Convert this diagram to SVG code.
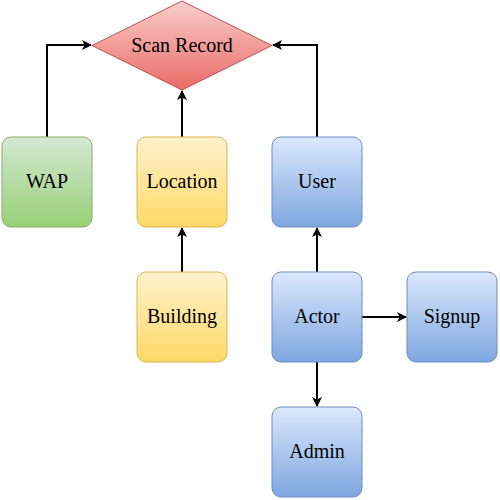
<svg xmlns="http://www.w3.org/2000/svg" width="500" height="500" viewBox="0 0 500 500">
<defs>
<linearGradient id="gBlue" x1="0" y1="0" x2="0" y2="1"><stop offset="0" stop-color="#dae8fc"/><stop offset="1" stop-color="#7ea6e0"/></linearGradient>
<linearGradient id="gGreen" x1="0" y1="0" x2="0" y2="1"><stop offset="0" stop-color="#d5e8d4"/><stop offset="1" stop-color="#97d077"/></linearGradient>
<linearGradient id="gYellow" x1="0" y1="0" x2="0" y2="1"><stop offset="0" stop-color="#fff2cc"/><stop offset="1" stop-color="#ffd966"/></linearGradient>
<linearGradient id="gRed" x1="0" y1="0" x2="0" y2="1"><stop offset="0" stop-color="#f8cecc"/><stop offset="1" stop-color="#ea6b66"/></linearGradient>
<marker id="arr" viewBox="0 0 10 10" refX="9" refY="5" markerWidth="5" markerHeight="5" markerUnits="strokeWidth" orient="auto">
<path d="M0,0 L10,5 L0,10 L2.5,5 Z" fill="#000"/>
</marker>
<style>
.blue{fill:url(#gBlue);stroke:#6c8ebf;stroke-width:1}
.green{fill:url(#gGreen);stroke:#82b366;stroke-width:1}
.yellow{fill:url(#gYellow);stroke:#d6b656;stroke-width:1}
.red{fill:url(#gRed);stroke:#b85450;stroke-width:1}
.t{font-family:'Liberation Serif','Times New Roman',serif;font-size:20px;fill:#000;text-anchor:middle}
.c{fill:none;stroke:#000;stroke-width:2;marker-end:url(#arr)}
</style>
</defs>
<g id="connectors">
<path class="c" d="M47,137 V45 H91"/>
<path class="c" d="M182,137 V91"/>
<path class="c" d="M317,137 V45 H273"/>
<path class="c" d="M182,272 V228"/>
<path class="c" d="M317,272 V228"/>
<path class="c" d="M362,317 H406"/>
<path class="c" d="M317,362 V406"/>
</g>
<g id="scan-record"><polygon class="red" points="182,1 272,45.5 182,90 92,45.5"/><text class="t" x="182" y="51.5">Scan Record</text></g>
<g id="wap"><rect class="green" x="2" y="137" width="90" height="90" rx="9"/><text class="t" x="47" y="188">WAP</text></g>
<g id="location"><rect class="yellow" x="137" y="137" width="90" height="90" rx="9"/><text class="t" x="182" y="188">Location</text></g>
<g id="user"><rect class="blue" x="272" y="137" width="90" height="90" rx="9"/><text class="t" x="317" y="188">User</text></g>
<g id="building"><rect class="yellow" x="137" y="272" width="90" height="90" rx="9"/><text class="t" x="182" y="323">Building</text></g>
<g id="actor"><rect class="blue" x="272" y="272" width="90" height="90" rx="9"/><text class="t" x="317" y="323">Actor</text></g>
<g id="signup"><rect class="blue" x="407" y="272" width="90" height="90" rx="9"/><text class="t" x="452" y="323">Signup</text></g>
<g id="admin"><rect class="blue" x="272" y="407" width="90" height="90" rx="9"/><text class="t" x="317" y="458">Admin</text></g>
</svg>
